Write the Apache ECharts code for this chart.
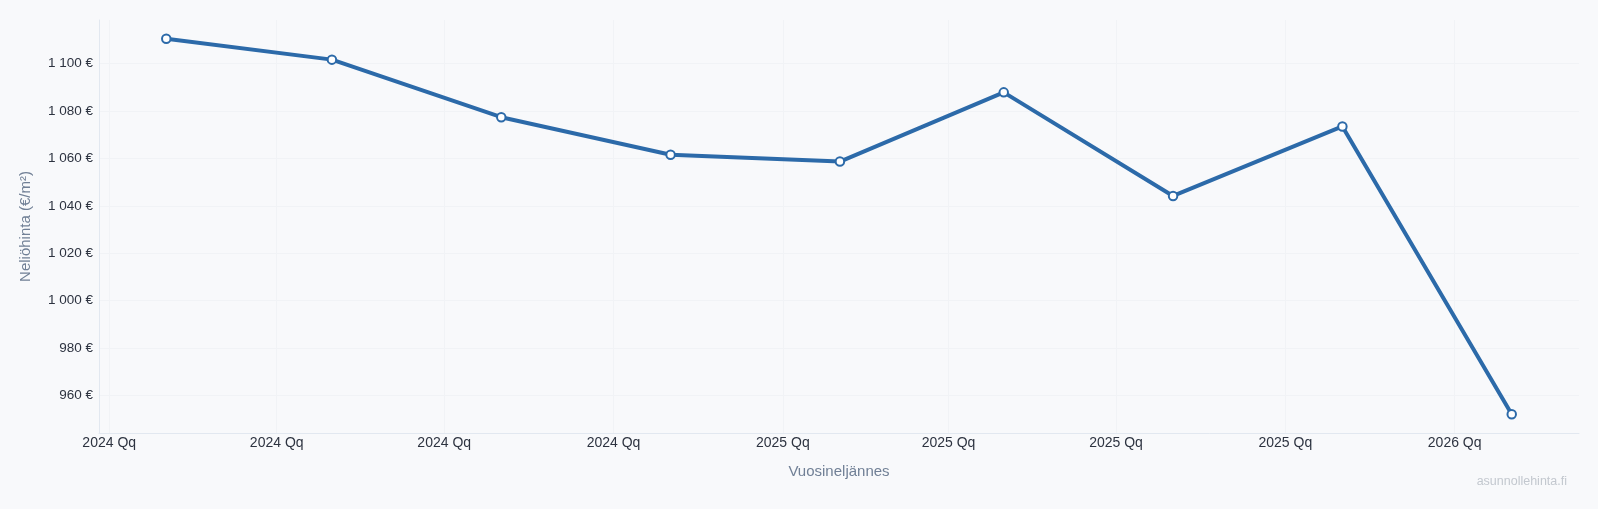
<!DOCTYPE html>
<html>
<head>
    <meta charset="utf-8" />
    <title>Neliöhinta</title>
    <style>
        html, body { margin: 0; padding: 0; background: #f8f9fb; }
        #chart { width: 1598px; height: 509px; }
    </style>
</head>
<body>
    <div id="chart"></div>

    <script src="https://cdn.jsdelivr.net/npm/echarts@6/dist/echarts.min.js"></script>
    <script type="text/javascript">

        // quarterly square-metre prices (€/m²)
        var quarterDates = ['2024-02-01', '2024-05-01', '2024-08-01', '2024-11-01',
                            '2025-02-01', '2025-05-01', '2025-08-01', '2025-11-01', '2026-02-01'];
        var squarePrices = [1110.5, 1101.7, 1077.4, 1061.6, 1058.7, 1087.9, 1044.2, 1073.5, 952.1];

        function pad5(v) {
            return (v.max - v.min) * 0.05;
        }

        function euro(value) {
            var s = String(Math.round(value));
            s = s.replace(/\B(?=(\d{3})+(?!\d))/g, ' ');
            return s + ' €';
        }

        var chart = echarts.init(document.getElementById('chart'));

        var option = {
            backgroundColor: '#f8f9fb',
            animation: false,
            textStyle: {
                fontFamily: '"Liberation Sans", Arial, sans-serif'
            },
            grid: {
                left: 99,
                right: 19,
                top: 20,
                bottom: 76
            },
            xAxis: {
                type: 'time',
                min: function (v) { return v.min - pad5(v); },
                max: function (v) { return v.max + pad5(v); },
                splitNumber: 8,
                name: 'Vuosineljännes',
                nameLocation: 'middle',
                nameGap: 31,
                nameTextStyle: { color: '#718096', fontSize: 15 },
                axisLine: { lineStyle: { color: '#e2e8f0', width: 1 } },
                axisTick: { show: false },
                axisLabel: {
                    color: '#2d3340',
                    fontSize: 14,
                    margin: 3,
                    formatter: function (value) {
                        return new Date(value).getFullYear() + ' Qq';
                    }
                },
                splitLine: {
                    show: true,
                    showMinLine: false,
                    showMaxLine: false,
                    lineStyle: { color: '#f1f3f6', width: 1 }
                }
            },
            yAxis: {
                type: 'value',
                min: function (v) { return v.min - pad5(v); },
                max: function (v) { return v.max + pad5(v); },
                splitNumber: 8,
                minInterval: 20,
                maxInterval: 20,
                name: 'Neliöhinta (€/m²)',
                nameLocation: 'middle',
                nameGap: 66,
                nameTextStyle: { color: '#718096', fontSize: 15 },
                axisLine: { show: true, lineStyle: { color: '#e2e8f0', width: 1 } },
                axisTick: { show: false },
                axisLabel: {
                    color: '#2d3340',
                    fontSize: 13.5,
                    margin: 6,
                    showMinLabel: false,
                    showMaxLabel: false,
                    formatter: euro
                },
                splitLine: {
                    show: true,
                    showMinLine: false,
                    showMaxLine: false,
                    lineStyle: { color: '#f1f3f6', width: 1 }
                }
            },
            graphic: [{
                type: 'text',
                right: 31,
                bottom: 21,
                style: {
                    text: 'asunnollehinta.fi',
                    fill: '#c3c8cf',
                    fontSize: 12.5,
                    fontFamily: '"Liberation Sans", Arial, sans-serif'
                }
            }],
            series: [{
                type: 'line',
                data: quarterDates.map(function (d, i) {
                    return [d, squarePrices[i]];
                }),
                symbol: 'emptyCircle',
                symbolSize: 8.5,
                itemStyle: {
                    color: '#2c6aa9',
                    borderWidth: 3.5
                },
                lineStyle: {
                    color: '#2c6aa9',
                    width: 4
                }
            }]
        };

        chart.setOption(option);
    </script>
</body>
</html>
